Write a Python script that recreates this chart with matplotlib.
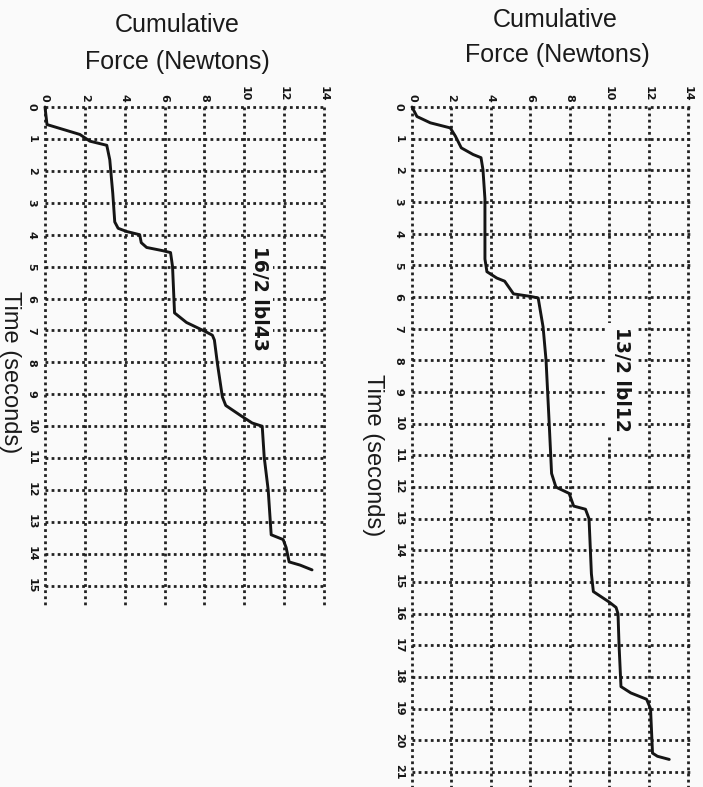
import matplotlib
matplotlib.use("Agg")
import matplotlib.pyplot as plt
import numpy as np

# ---- data ----
force_ticks = [0, 2, 4, 6, 8, 10, 12, 14]
left_time_ticks = list(range(0, 16))
right_time_ticks = list(range(0, 22))

left_label = "16/2 lbl43"
left_t = [0, 0.55, 0.86, 1.07, 1.2, 1.65, 2.7, 3.6, 3.8, 3.9, 4.0, 4.25, 4.4, 4.5, 4.56,
          5.0, 6.45, 6.75, 7.05, 7.15, 7.3, 8.03, 9.08, 9.35, 9.7, 9.9, 10.0, 10.97,
          12.0, 13.4, 13.55, 13.8, 14.25, 14.35, 14.5]
left_f = [0, 0.1, 1.75, 2.25, 3.1, 3.25, 3.4, 3.5, 3.67, 4.1, 4.75, 4.83, 5.1, 5.9, 6.3,
          6.4, 6.5, 7.1, 8.1, 8.4, 8.5, 8.65, 8.9, 9.07, 9.9, 10.4, 10.9, 11.0,
          11.2, 11.35, 11.95, 12.1, 12.25, 12.8, 13.4]

right_label = "13/2 lbl12"
right_t = [0, 0.3, 0.5, 0.66, 0.92, 1.29, 1.5, 1.6, 1.98, 2.9, 4.8, 5.2, 5.4, 5.5, 5.9,
           5.98, 6.03, 6.95, 8.0, 10.0, 11.57, 12.0, 12.2, 12.6, 12.7, 13.0, 14.74, 15.3,
           15.63, 15.8, 16.0, 16.95, 18.3, 18.5, 18.7, 19.0, 20.4, 20.5, 20.6]
right_f = [0, 0.25, 0.93, 1.94, 2.2, 2.5, 3.1, 3.5, 3.6, 3.7, 3.7, 3.8, 4.3, 4.7, 5.15,
           6.0, 6.4, 6.65, 6.8, 6.96, 7.08, 7.3, 7.97, 8.2, 8.8, 8.98, 9.1, 9.2,
           10.0, 10.35, 10.45, 10.5, 10.6, 11.1, 11.9, 12.1, 12.2, 12.45, 13.05]

BG = "#fafafa"
W, H = 703, 787
fig = plt.figure(figsize=(W / 100, H / 100), dpi=100, facecolor=BG)
plt.rcParams['font.family'] = ['Liberation Sans', 'DejaVu Sans']

GRID_KW = dict(color="#222222", lw=2.0, linestyle=(0, (1, 1.2)), zorder=1, clip_on=False)


def panel(rect, tmax, tticks, t, f, label, label_pos):
    ax = fig.add_axes(rect)
    ax.set_facecolor("none")
    ax.set_xlim(0, 14)
    ax.set_ylim(tmax, 0)
    for s in ax.spines.values():
        s.set_visible(False)
    for tt in tticks:
        ax.plot([0, 14.1], [tt, tt], **GRID_KW)
    for ff in force_ticks:
        ax.plot([ff, ff], [0, tmax], **GRID_KW)
    ax.plot(f, t, color="#151515", lw=2.1, zorder=4, solid_capstyle="round",
            solid_joinstyle="round", clip_on=False)
    ax.xaxis.tick_top()
    ax.set_xticks(force_ticks)
    ax.set_xticklabels([str(v) for v in force_ticks], rotation=-90,
                       fontsize=8, fontweight="bold", family="DejaVu Sans")
    ax.set_yticks(tticks)
    ax.set_yticklabels([str(v) for v in tticks], rotation=-90,
                       fontsize=8, fontweight="bold", family="DejaVu Sans", va="center")
    ax.tick_params(length=0, pad=4, colors="#151515")
    ax.tick_params(axis="y", pad=6)
    ax.text(label_pos[0], label_pos[1], label, rotation=-90, ha="center", va="center",
            fontsize=13.5, fontweight="bold", family="DejaVu Sans", color="#151515",
            zorder=3, bbox=dict(facecolor=BG, edgecolor="none", pad=3))
    return ax


# left panel
panel([45 / W, 1 - 605 / H, 279 / W, 498 / H], 15.6, left_time_ticks,
      left_t, left_f, left_label, (10.75, 6.0))
# right panel
panel([412 / W, 0, 276 / W, 680 / H], 21.47, right_time_ticks,
      right_t, right_f, right_label, (10.65, 8.6))

title_kw = dict(ha="center", va="center", fontsize=18, color="#1a1a1a")
fig.text(177 / W, 1 - 25 / H, "Cumulative", **title_kw)
fig.text(177 / W, 1 - 62 / H, "Force (Newtons)", **title_kw)
fig.text(555 / W, 1 - 20 / H, "Cumulative", **title_kw)
fig.text(557 / W, 1 - 55 / H, "Force (Newtons)", **title_kw)

fig.text(10 / W, 1 - 372 / H, "Time (seconds)", rotation=-90, ha="center", va="center",
         fontsize=17, color="#1a1a1a")
fig.text(373 / W, 1 - 455 / H, "Time (seconds)", rotation=-90, ha="center", va="center",
         fontsize=17, color="#1a1a1a")

fig.savefig("out.png", dpi=100, facecolor=BG)
